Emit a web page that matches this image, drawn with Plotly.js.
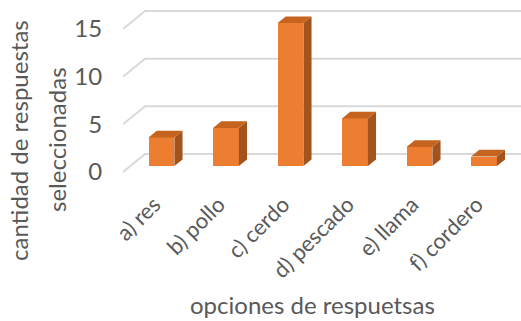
<!DOCTYPE html>
<html>
<head>
<meta charset="utf-8">
<script src="https://cdn.plot.ly/plotly-3.0.1.min.js"></script>
<style>
  html, body { margin: 0; padding: 0; background: #ffffff; }
  #chart { width: 521px; height: 321px; }
</style>
</head>
<body>
<div id="chart"></div>
<script>
// Survey answers: how many times each option was chosen
const categories = ['a) res', 'b) pollo', 'c) cerdo', 'd) pescado', 'e) llama', 'f) cordero'];
const counts = [3, 4, 15, 5, 2, 1];
const yTicks = [0, 5, 10, 15];

// Pseudo-3D geometry (axis units): depth vector of the floor and where the boxes sit in it
const DX = 0.341;      // full depth, horizontal part (category units)
const DY = 1.89;       // full depth, vertical part (value units)
const T1 = 0.33;       // front face of the boxes
const T2 = 0.70;       // back face of the boxes
const BW = 0.40;       // box width
const X0 = -0.484, X1 = 5.686;
const Y0 = -0.84, Y1 = 17.52;

const FRONT = '#ED7D31', TOP = '#C4641F', SIDE = '#A3541C';
const TEXT = '#595959', GRID = '#D9D9D9';
const FONT = 'Lato, sans-serif';

const idx = categories.map((_, i) => i);
const fx = idx.map(i => i + T1 * DX);   // front-face centre
const base = T1 * DY;
const ddx = (T2 - T1) * DX, ddy = (T2 - T1) * DY;

// side and top faces as filled polygons built from the counts
const sideX = [], sideY = [], topX = [], topY = [];
counts.forEach((v, i) => {
  const xl = fx[i] - BW / 2, xr = fx[i] + BW / 2;
  sideX.push(xr, xr + ddx, xr + ddx, xr, xr, null);
  sideY.push(base, base + ddy, base + v + ddy, base + v, base, null);
  topX.push(xl, xr, xr + ddx, xl + ddx, xl, null);
  topY.push(base + v, base + v, base + v + ddy, base + v + ddy, base + v, null);
});

const traces = [
  {
    type: 'bar', x: fx, y: counts, base: base, width: BW,
    marker: { color: FRONT, line: { width: 0 } },
    hoverinfo: 'skip', showlegend: false
  },
  {
    type: 'scatter', mode: 'lines', x: sideX, y: sideY, fill: 'toself',
    fillcolor: SIDE, line: { width: 0, color: SIDE }, hoverinfo: 'skip', showlegend: false
  },
  {
    type: 'scatter', mode: 'lines', x: topX, y: topY, fill: 'toself',
    fillcolor: TOP, line: { width: 0, color: TOP }, hoverinfo: 'skip', showlegend: false
  }
];

// back-wall gridlines with the slanted run along the left wall
const shapes = yTicks.map(v => ({
  type: 'path', xref: 'x', yref: 'y', layer: 'below',
  path: `M ${X0},${v} L ${X0 + DX},${v + DY} L ${X1},${v + DY}`,
  line: { color: GRID, width: 2 }
}));

const layout = {
  width: 521, height: 321,
  margin: { l: 123, r: 0, t: 5, b: 141 },
  paper_bgcolor: '#ffffff', plot_bgcolor: 'rgba(0,0,0,0)',
  font: { family: FONT, color: TEXT, size: 22 },
  showlegend: false,
  bargap: 0,
  xaxis: {
    range: [X0, X1], tickvals: idx, ticktext: categories, tickangle: -45,
    showgrid: false, zeroline: false, showline: false,
    ticks: 'outside', ticklen: 2, tickcolor: 'rgba(0,0,0,0)',
    tickfont: { family: FONT, color: TEXT, size: 22 }
  },
  yaxis: {
    range: [Y0, Y1], tickvals: yTicks, ticktext: yTicks.map(String),
    showgrid: false, zeroline: false, showline: false,
    ticks: 'outside', ticklen: 15, tickcolor: 'rgba(0,0,0,0)',
    tickfont: { family: FONT, color: TEXT, size: 24 }
  },
  shapes: shapes,
  annotations: [
    {
      text: 'opciones de respuetsas', xref: 'paper', yref: 'paper',
      x: 0.475, y: -0.714, xanchor: 'center', yanchor: 'middle', showarrow: false,
      font: { family: FONT, color: TEXT, size: 24 }
    },
    {
      text: 'cantidad de respuestas', xref: 'paper', yref: 'paper',
      x: (18 - 123) / 398, y: (180 - 141) / 175, xanchor: 'center', yanchor: 'middle',
      textangle: -90, showarrow: false,
      font: { family: FONT, color: TEXT, size: 24 }
    },
    {
      text: 'seleccionadas', xref: 'paper', yref: 'paper',
      x: (56 - 123) / 398, y: (180 - 140) / 175, xanchor: 'center', yanchor: 'middle',
      textangle: -90, showarrow: false,
      font: { family: FONT, color: TEXT, size: 24 }
    }
  ]
};

Plotly.newPlot('chart', traces, layout, { staticPlot: true, displayModeBar: false });
</script>
</body>
</html>
